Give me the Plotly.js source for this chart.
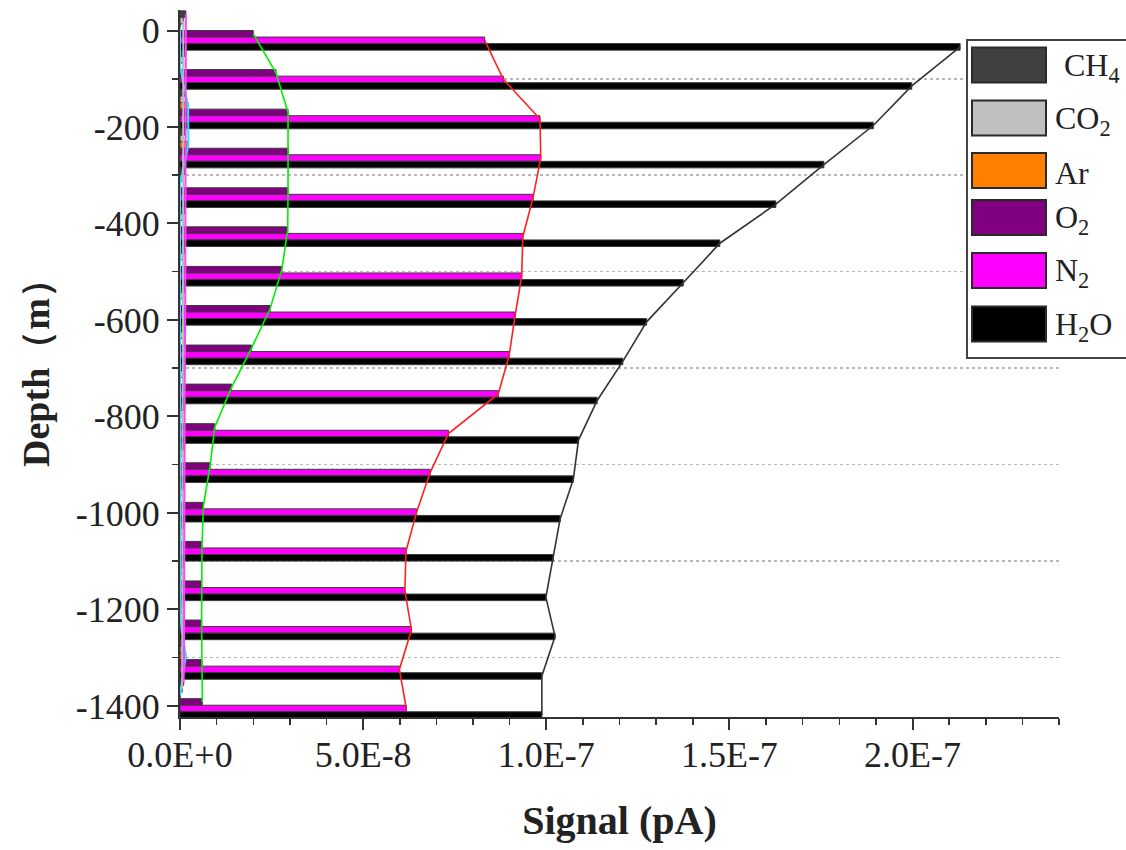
<!DOCTYPE html>
<html>
<head>
<meta charset="utf-8">
<script src="https://cdn.plot.ly/plotly-3.0.1.min.js"></script>
<style>html,body{margin:0;padding:0;background:#fff;}#chart{width:1126px;height:850px;}</style>
</head>
<body>
<div id="chart"></div>
<script>
// ---- data ----
const depth = [0, -81, -163, -244, -326, -407, -489, -570, -652, -733, -815, -896, -978, -1059, -1141, -1222, -1304, -1385];
const h2o = [2.130e-7, 1.998e-7, 1.893e-7, 1.758e-7, 1.627e-7, 1.474e-7, 1.374e-7, 1.274e-7, 1.209e-7, 1.139e-7, 1.088e-7, 1.074e-7, 1.038e-7, 1.019e-7, 0.999e-7, 1.024e-7, 0.988e-7, 0.988e-7];
const n2 = [8.32e-8, 8.83e-8, 9.83e-8, 9.85e-8, 9.64e-8, 9.36e-8, 9.33e-8, 9.15e-8, 8.99e-8, 8.69e-8, 7.33e-8, 6.83e-8, 6.46e-8, 6.17e-8, 6.14e-8, 6.32e-8, 5.99e-8, 6.18e-8];
const o2 = [2.00e-8, 2.62e-8, 2.95e-8, 2.96e-8, 2.95e-8, 2.94e-8, 2.78e-8, 2.46e-8, 1.95e-8, 1.41e-8, 0.95e-8, 0.82e-8, 0.64e-8, 0.60e-8, 0.59e-8, 0.59e-8, 0.60e-8, 0.61e-8];
const ar = [0, 0, 2.2e-9, 2.3e-9, 0, 0, 0, 0, 0, 0, 0, 0, 0, 0, 0, 0, 1.6e-9, 0];
const co2 = [0.9e-9, 0.9e-9, 1.0e-9, 0.9e-9, 0.9e-9, 0.8e-9, 0.9e-9, 0.8e-9, 0.8e-9, 0.8e-9, 0.7e-9, 0.7e-9, 0.7e-9, 0.7e-9, 0.6e-9, 0.6e-9, 0.6e-9, 0.6e-9];
const ch4 = [1.6e-9, 1.6e-9, 1.5e-9, 1.5e-9, 1.5e-9, 1.4e-9, 1.4e-9, 1.4e-9, 1.4e-9, 1.3e-9, 1.3e-9, 1.3e-9, 1.2e-9, 1.2e-9, 1.2e-9, 1.1e-9, 1.1e-9, 1.0e-9];

const seriesNames = ['CH<sub>4</sub>', 'CO<sub>2</sub>', 'Ar', 'O<sub>2</sub>', 'N<sub>2</sub>', 'H<sub>2</sub>O'];
const yTickVals = [0, -200, -400, -600, -800, -1000, -1200, -1400];
const yTickText = ['0', '-200', '-400', '-600', '-800', '-1000', '-1200', '-1400'];
const yMinorVals = [-100, -300, -500, -700, -900, -1100, -1300];
const xTickVals = [0, 5e-8, 1e-7, 1.5e-7, 2e-7];
const xTickText = ['0.0E+0', '5.0E-8', '1.0E-7', '1.5E-7', '2.0E-7'];

// ---- styles ----
const FONT = 'Liberation Serif, Times New Roman, serif';
const barColors = ['#404040', '#c0c0c0', '#ff8000', '#800080', '#ff00ff', '#000000'];
const lineColors = ['#ff44ff', '#bbbbbb', '#33ddff', '#00ee00', '#ff2020', '#333333'];
const series = [ch4, co2, ar, o2, n2, h2o];

// slot width: six slots fill one depth step
const step = (depth[0] - depth[depth.length - 1]) / (depth.length - 1);
const w = step / 6;
// slot offsets, top to bottom: CH4, CO2, Ar, O2, N2, H2O
const slotOffsets = [2, 1, 0, -1, -2, -3];

const traces = [];
series.forEach((vals, i) => {
  traces.push({
    type: 'bar', orientation: 'h',
    x: vals, y: depth,
    width: w, offset: slotOffsets[i] * w,
    marker: {color: barColors[i], line: {color: '#3a3a3a', width: 1}},
    showlegend: false, hoverinfo: 'skip'
  });
});
// small-series lines first (underneath), then the main ones
[2, 1, 0, 3, 4, 5].forEach(i => {
  traces.push({
    type: 'scatter', mode: 'lines',
    x: series[i], y: depth.map(d => d + (slotOffsets[i] + 0.5) * w),
    line: {color: lineColors[i], width: i >= 3 ? 1.6 : 2},
    showlegend: false, hoverinfo: 'skip'
  });
});

// ---- legend drawn as shapes/annotations in paper coords ----
const L = 180, R = 1059, T = 10, B = 717;
const px = x => (x - L) / (R - L);
const py = y => (B - y) / (B - T);
const shapes = [{
  type: 'rect', xref: 'paper', yref: 'paper',
  x0: px(967), x1: px(1140), y0: py(358), y1: py(40),
  fillcolor: '#ffffff', line: {color: '#444', width: 2}, layer: 'above'
}];
const annotations = [];
const rowCenters = [65, 118, 170.5, 217.5, 270.5, 324];
const textX = [1062, 1053, 1053, 1053, 1053, 1053];
seriesNames.forEach((nm, i) => {
  const yc = rowCenters[i];
  shapes.push({
    type: 'rect', xref: 'paper', yref: 'paper',
    x0: px(972), x1: px(1046), y0: py(yc + 17.5), y1: py(yc - 17.5),
    fillcolor: barColors[i], line: {color: '#2a2a2a', width: 2}, layer: 'above'
  });
  annotations.push({
    xref: 'paper', yref: 'paper', x: px(textX[i]), y: py(yc + 2),
    xanchor: 'left', yanchor: 'middle', showarrow: false,
    text: nm, font: {family: FONT, size: 32, color: '#222'}
  });
});

const layout = {
  width: 1126, height: 850,
  margin: {l: L, r: 1126 - R, t: T, b: 850 - B},
  paper_bgcolor: '#fff', plot_bgcolor: '#fff',
  barmode: 'overlay',
  showlegend: false,
  font: {family: FONT, color: '#222'},
  xaxis: {
    range: [0, 2.4e-7],
    tickmode: 'array', tickvals: xTickVals, ticktext: xTickText,
    ticks: 'outside', ticklen: 11, tickwidth: 2, tickcolor: '#333',
    ticklabelstandoff: -6,
    minor: {dtick: 1e-8, tick0: 0, ticks: 'outside', ticklen: 6, tickwidth: 1.5, tickcolor: '#333'},
    showline: true, linecolor: '#333', linewidth: 2,
    showgrid: false, zeroline: false,
    tickfont: {family: FONT, size: 36, color: '#222'},
    title: {text: '<b>Signal (pA)</b>', font: {family: FONT, size: 40, color: '#222'}, standoff: 32}
  },
  yaxis: {
    range: [-1423, 42.5],
    tickmode: 'array', tickvals: yTickVals, ticktext: yTickText,
    ticks: 'outside', ticklen: 11, tickwidth: 2, tickcolor: '#333',
    minor: {tickmode: 'array', tickvals: yMinorVals, ticks: 'outside', ticklen: 6, tickwidth: 1.5, tickcolor: '#333',
            showgrid: true, gridcolor: '#b8b8b8', gridwidth: 1.5, griddash: 'dot'},
    showline: true, linecolor: '#333', linewidth: 2,
    showgrid: false, zeroline: false,
    tickfont: {family: FONT, size: 36, color: '#222'},
    title: {text: '<b>Depth（m）</b>', font: {family: FONT, size: 38, color: '#222'}, standoff: 14}
  },
  shapes: shapes,
  annotations: annotations
};

Plotly.newPlot('chart', traces, layout, {staticPlot: true, displayModeBar: false});
</script>
</body>
</html>
